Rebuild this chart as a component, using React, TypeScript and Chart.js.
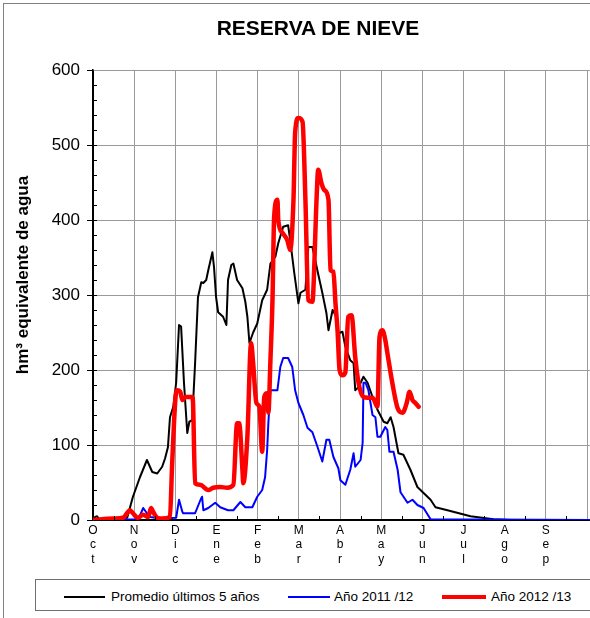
import React, { useEffect, useRef } from "react";
import { Chart, registerables } from "chart.js";

Chart.register(...registerables);

// Month tick labels (hydrological year, from 1 October)
const MONTHS = ["Oct", "Nov", "Dic", "Ene", "Feb", "Mar", "Abr", "May", "Jun", "Jul", "Ago", "Sep"];
const Y_MAX = 600;
const Y_STEP = 100;
const X_MAX = 12.07;

const TITLE = "RESERVA DE NIEVE";
const Y_TITLE = "hm³ equivalente de agua";
const SERIES_NAMES = ["Promedio últimos 5 años", "Año 2011 /12", "Año 2012 /13"];

// [position in months since 1 Oct, hm³]
const PROMEDIO: [number, number][] = [
  [0, 0], [0.05, 4], [0.1, 5], [0.15, 1], [0.4, 2], [0.83, 3], [0.97, 31], [1.14, 57], [1.31, 80],
  [1.44, 64], [1.56, 62], [1.68, 71], [1.75, 82], [1.82, 97], [1.87, 137], [1.95, 151], [2.02, 183],
  [2.09, 260], [2.14, 258], [2.21, 183], [2.29, 116], [2.34, 131], [2.41, 133], [2.48, 209], [2.55, 297],
  [2.63, 317], [2.68, 316], [2.75, 320], [2.8, 333], [2.9, 357], [2.94, 337], [2.99, 297], [3.04, 277],
  [3.16, 271], [3.24, 260], [3.28, 320], [3.36, 340], [3.41, 342], [3.5, 320], [3.63, 309], [3.7, 291],
  [3.75, 271], [3.8, 236], [3.89, 250], [3.99, 262], [4.11, 293], [4.23, 307], [4.31, 342], [4.43, 351],
  [4.5, 369], [4.62, 391], [4.74, 393], [4.79, 373], [4.89, 329], [4.99, 289], [5.04, 303], [5.16, 307],
  [5.23, 364], [5.33, 364], [5.45, 333], [5.57, 303], [5.67, 276], [5.72, 253], [5.82, 280], [5.91, 271],
  [5.96, 249], [6.06, 251], [6.13, 231], [6.25, 213], [6.33, 209], [6.37, 173], [6.45, 177], [6.57, 191],
  [6.67, 183], [6.79, 164], [6.91, 147], [7.06, 131], [7.15, 129], [7.23, 137], [7.3, 124], [7.42, 89],
  [7.54, 87], [7.71, 67], [7.88, 44], [8.03, 36], [8.2, 27], [8.32, 17], [8.61, 13], [9.17, 5],
  [9.73, 1], [10.15, 0], [12.07, 0],
];

const ANO_2011_12: [number, number][] = [
  [0, 0], [1.1, 1], [1.22, 16], [1.31, 9], [1.39, 4], [1.63, 2], [2.02, 3], [2.09, 27], [2.17, 11],
  [2.19, 9], [2.36, 9], [2.48, 9], [2.62, 28], [2.65, 31], [2.68, 13], [2.8, 16], [2.97, 23], [3.09, 17],
  [3.28, 13], [3.41, 13], [3.58, 24], [3.7, 17], [3.87, 17], [3.99, 31], [4.11, 40], [4.18, 57],
  [4.23, 93], [4.26, 130], [4.31, 173], [4.48, 173], [4.55, 204], [4.62, 216], [4.74, 216], [4.84, 204],
  [4.91, 173], [4.99, 156], [5.11, 140], [5.21, 123], [5.33, 117], [5.45, 98], [5.57, 78], [5.67, 107],
  [5.74, 107], [5.84, 84], [5.96, 69], [6.01, 53], [6.13, 47], [6.25, 67], [6.33, 89], [6.37, 71],
  [6.5, 80], [6.55, 103], [6.57, 183], [6.62, 183], [6.69, 173], [6.79, 140], [6.86, 137], [6.91, 111],
  [6.98, 111], [7.1, 124], [7.15, 120], [7.2, 91], [7.3, 91], [7.4, 67], [7.47, 37], [7.64, 23],
  [7.76, 27], [7.88, 20], [8.03, 16], [8.2, 1], [12.07, 0],
];

const ANO_2012_13: [number, number][] = [
  [0, 0], [0.5, 2], [0.73, 3], [0.9, 13], [0.97, 9], [1.09, 3], [1.22, 7], [1.34, 4], [1.41, 16],
  [1.46, 11], [1.56, 3], [1.68, 2], [1.87, 4], [1.92, 71], [2.0, 160], [2.04, 173], [2.12, 171],
  [2.17, 160], [2.24, 164], [2.41, 164], [2.43, 156], [2.48, 49], [2.6, 47], [2.8, 40], [2.92, 43],
  [3.09, 44], [3.26, 43], [3.41, 47], [3.5, 129], [3.55, 129], [3.63, 67], [3.65, 49], [3.75, 111],
  [3.84, 236], [3.89, 209], [3.97, 156], [4.04, 151], [4.11, 91], [4.16, 164], [4.23, 169], [4.26, 143],
  [4.31, 213], [4.36, 293], [4.4, 404], [4.48, 427], [4.5, 400], [4.6, 383], [4.72, 373], [4.79, 360],
  [4.87, 427], [4.91, 516], [4.99, 536], [5.09, 531], [5.16, 427], [5.23, 293], [5.33, 291], [5.35, 303],
  [5.43, 427], [5.47, 467], [5.55, 449], [5.62, 440], [5.72, 427], [5.77, 333], [5.84, 331], [5.89, 289],
  [5.94, 253], [5.99, 200], [6.06, 193], [6.13, 197], [6.2, 271], [6.28, 273], [6.37, 217], [6.45, 183],
  [6.57, 164], [6.67, 163], [6.79, 163], [6.91, 151], [6.96, 244], [7.03, 253], [7.1, 240], [7.15, 223],
  [7.27, 183], [7.4, 149], [7.52, 143], [7.62, 156], [7.69, 171], [7.76, 160], [7.83, 156], [7.91, 151],
];

const COLORS = ["#000000", "#0000ff", "#ff0000"];
const WIDTHS = [2, 2, 4.5];

const FONT = "Arial, 'Liberation Sans', sans-serif";

const minorTicks = {
  id: "minorTicks",
  afterDraw(chart: any) {
    const { ctx, chartArea, scales } = chart;
    const x = scales.x;
    const y = scales.y;
    ctx.save();
    ctx.strokeStyle = "#000";
    ctx.lineWidth = 1;
    ctx.beginPath();
    for (let v = 20; v < Y_MAX; v += 20) {
      const py = Math.round(y.getPixelForValue(v)) + 0.5;
      ctx.moveTo(chartArea.left, py);
      ctx.lineTo(chartArea.left + 4, py);
    }
    for (let m = 0.5; m < 12; m += 1) {
      const px = Math.round(x.getPixelForValue(m)) + 0.5;
      ctx.moveTo(px, chartArea.bottom);
      ctx.lineTo(px, chartArea.bottom - 4);
    }
    ctx.stroke();
    ctx.restore();
  },
};

function ChartCanvas() {
  const ref = useRef<HTMLCanvasElement | null>(null);
  useEffect(() => {
    if (!ref.current) return;
    const series = [PROMEDIO, ANO_2011_12, ANO_2012_13];
    const chart = new Chart(ref.current, {
      type: "line",
      data: {
        datasets: series.map((s, i) => ({
          label: SERIES_NAMES[i],
          data: s.map(([x, y]) => ({ x, y })),
          borderColor: COLORS[i],
          backgroundColor: COLORS[i],
          borderWidth: WIDTHS[i],
          pointRadius: 0,
          tension: 0,
          cubicInterpolationMode: i === 2 ? ("monotone" as const) : ("default" as const),
          borderJoinStyle: "round" as const,
          borderCapStyle: "round" as const,
          order: 2 - i,
        })),
      },
      options: {
        animation: false,
        responsive: false,
        maintainAspectRatio: false,
        layout: { padding: { top: 70, left: 0, right: 0, bottom: 0 } },
        plugins: {
          legend: { display: false },
          title: { display: false },
          tooltip: { enabled: false },
        },
        scales: {
          x: {
            type: "linear",
            min: 0,
            max: X_MAX,
            afterBuildTicks: (scale: any) => {
              scale.ticks = MONTHS.map((_, i) => ({ value: i })).concat([{ value: 12 }]);
            },
            afterFit: (scale: any) => {
              scale.height = 98;
            },
            grid: {
              color: (c: any) => (c.tick && c.tick.value === 0 ? "#000" : "#9a9a9a"),
              drawTicks: false,
            },
            border: { display: true, color: "#000", width: 1.5 },
            ticks: {
              autoSkip: false,
              maxRotation: 0,
              minRotation: 0,
              padding: 3,
              color: "#000",
              font: { family: FONT, size: 12, lineHeight: 1.22 },
              callback: (v: any) => {
                const lab = MONTHS[Math.round(Number(v))];
                return lab ? lab.split("") : "";
              },
            },
          },
          y: {
            type: "linear",
            min: 0,
            max: Y_MAX,
            afterFit: (scale: any) => {
              scale.width = 93;
            },
            grid: {
              color: (c: any) => (c.tick && c.tick.value === 0 ? "#000" : "#9a9a9a"),
              tickColor: "#000",
              tickLength: 6,
            },
            border: { display: true, color: "#000", width: 1.5 },
            ticks: {
              stepSize: Y_STEP,
              padding: 7,
              color: "#000",
              font: { family: FONT, size: 17 },
            },
          },
        },
      },
      plugins: [minorTicks],
    });
    return () => chart.destroy();
  }, []);
  return (
    <canvas
      ref={ref}
      width={590}
      height={618}
      style={{ position: "absolute", left: 0, top: 0, width: 590, height: 618 }}
    />
  );
}

export default function App() {
  const legendItem = (i: number, lineLeft: number, lineWidth: number, textLeft: number) => (
    <React.Fragment key={i}>
      <div
        style={{
          position: "absolute",
          left: lineLeft,
          top: 17 - WIDTHS[i] / 2,
          width: lineWidth,
          height: WIDTHS[i],
          background: COLORS[i],
        }}
      />
      <div
        style={{
          position: "absolute",
          left: textLeft,
          top: 8,
          height: 18,
          lineHeight: "18px",
          fontSize: 13.5,
          whiteSpace: "nowrap",
          color: "#000",
        }}
      >
        {SERIES_NAMES[i]}
      </div>
    </React.Fragment>
  );
  return (
    <div
      style={{
        position: "fixed",
        left: 0,
        top: 0,
        width: 590,
        height: 618,
        overflow: "hidden",
        background: "#fff",
        fontFamily: FONT,
      }}
    >
      <div
        style={{
          position: "absolute",
          left: 3,
          top: 3,
          width: 640,
          height: 640,
          border: "1px solid #808080",
        }}
      />
      <ChartCanvas />
      <div
        style={{
          position: "absolute",
          left: 0,
          top: 15,
          width: 636,
          textAlign: "center",
          fontWeight: "bold",
          fontSize: 21,
          lineHeight: "26px",
          color: "#000",
        }}
      >
        {TITLE}
      </div>
      <div
        style={{
          position: "absolute",
          left: 23 - 150,
          top: 275 - 11,
          width: 300,
          height: 22,
          lineHeight: "22px",
          textAlign: "center",
          fontWeight: "bold",
          fontSize: 17,
          color: "#000",
          transform: "rotate(-90deg)",
          transformOrigin: "50% 50%",
          whiteSpace: "nowrap",
        }}
      >
        {Y_TITLE}
      </div>
      <div
        style={{
          position: "absolute",
          left: 35,
          top: 579,
          width: 580,
          height: 30,
          border: "1px solid #707070",
          background: "#fff",
        }}
      >
        {legendItem(0, 28, 41, 75)}
        {legendItem(1, 252, 42, 298)}
        {legendItem(2, 406, 44, 455)}
      </div>
    </div>
  );
}
